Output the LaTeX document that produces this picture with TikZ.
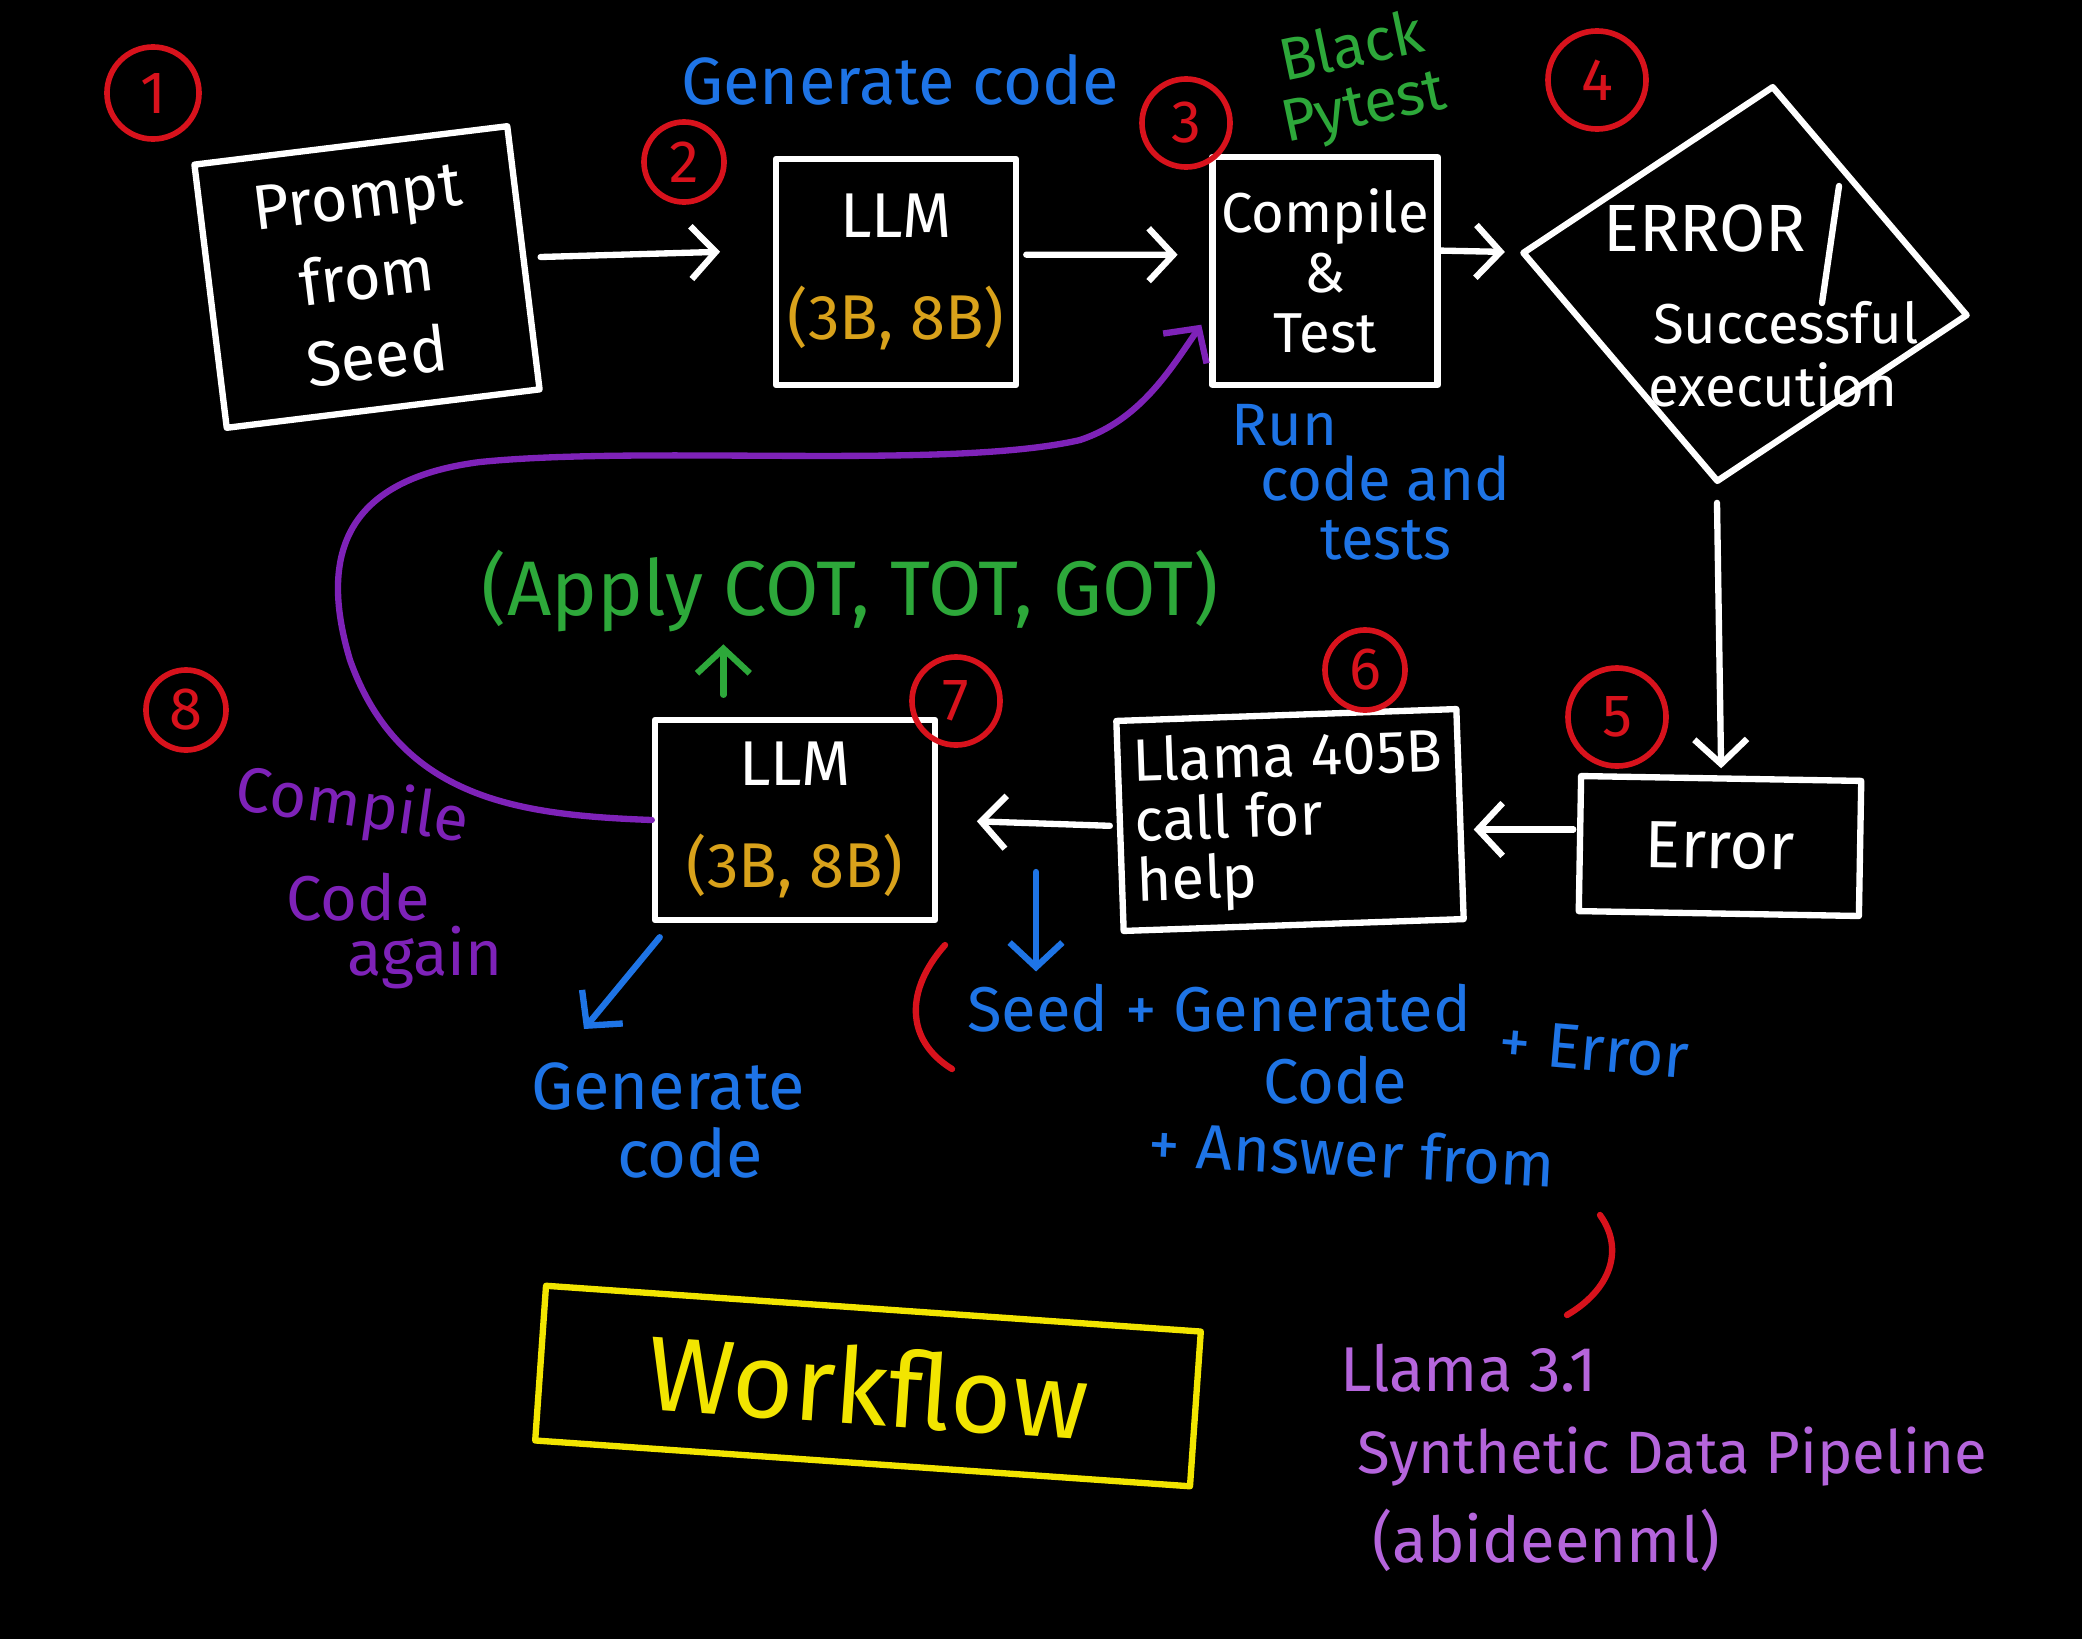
\documentclass[tikz,border=0pt]{standalone}
\usepackage{fontspec}
\setmainfont{Fira Sans}
\usetikzlibrary{arrows.meta,shapes.geometric,calc}
\definecolor{hred}{HTML}{D8121C}
\definecolor{hblue}{HTML}{1E74E6}
\definecolor{hgreen}{HTML}{2DA83A}
\definecolor{hgold}{HTML}{D9A21B}
\definecolor{hpurple}{HTML}{7E22B8}
\definecolor{hlilac}{HTML}{B565DC}
\definecolor{hyellow}{HTML}{F2E500}
\begin{document}
\begin{tikzpicture}[x=0.01cm,y=-0.01cm, line cap=round, line join=round,
  stroke/.style={line width=1.8pt},
  box/.style={draw=white, stroke, inner sep=2pt, text=white, align=center,
    font=\fontsize{18}{21}\selectfont},
  num/.style={circle, draw=hred, line width=1.6pt, text=hred, minimum size=0.85cm,
    inner sep=0pt, font=\fontsize{17}{17}\selectfont},
  conn/.style={stroke, -{Straight Barb[length=7pt,width=15pt]}},
  bluetxt/.style={text=hblue, font=\fontsize{19}{21}\selectfont, align=center},
  greentxt/.style={text=hgreen, font=\fontsize{17}{17}\selectfont, align=center},
  purptxt/.style={text=hpurple, font=\fontsize{18}{20}\selectfont, align=center},
  lilactxt/.style={text=hlilac, font=\fontsize{18}{20}\selectfont, anchor=west}
]
\fill[black] (0,0) rectangle (2082,1639);
\useasboundingbox (0,0) rectangle (2082,1639);

% boxes
\node[box, minimum width=3.15cm, minimum height=2.65cm, rotate=7] (b1) at (367,277) {Prompt\\[2pt]from\\[2pt]Seed};
\node[box, minimum width=2.4cm, minimum height=2.26cm] (b2) at (896,272) {LLM\\[8pt]\textcolor{hgold}{(3B, 8B)}};
\node[box, minimum width=2.25cm, minimum height=2.28cm, font=\fontsize{16}{17}\selectfont] (b3) at (1325,271) {Compile\\\&\\Test};
\node[diamond, draw=white, stroke, minimum width=4.5cm, minimum height=4cm, rotate=-8, inner sep=0pt] (d) at (1745,284) {};
\node[text=white, font=\fontsize{19}{19}\selectfont] (err4) at (1705,228) {ERROR};
\node[text=white, font=\fontsize{16}{16}\selectfont] (succ) at (1786,323) {Successful};
\node[text=white, font=\fontsize{16}{16}\selectfont] (exec) at (1773,385) {execution};
\draw[white, stroke] (1839,186) -- (1822,303);
\node[box, minimum width=2.8cm, minimum height=1.35cm, rotate=-1, font=\fontsize{19}{19}\selectfont] (b5) at (1720,846) {Error};
\node[box, minimum width=3.4cm, minimum height=2.1cm, rotate=2, align=left, font=\fontsize{17}{17}\selectfont] (b6) at (1290,820) {Llama 405B\\call for\\help};
\node[box, minimum width=2.8cm, minimum height=2.0cm] (b7) at (795,820) {LLM\\[8pt]\textcolor{hgold}{(3B, 8B)}};
\node[draw=hyellow, stroke, minimum width=6.56cm, minimum height=1.55cm, rotate=-4, text=hyellow, font=\fontsize{30}{30}\selectfont] (wf) at (868,1386) {Workflow};

% numbers
\node[num, minimum size=0.92cm] (n1) at (153,93) {1};
\node[num, minimum size=0.8cm] (n2) at (684,162) {2};
\node[num, minimum size=0.88cm] (n3) at (1186,123) {3};
\node[num, minimum size=0.98cm] (n4) at (1597,80) {4};
\node[num, minimum size=0.98cm] (n5) at (1617,717) {5};
\node[num, minimum size=0.8cm] (n6) at (1365,670) {6};
\node[num, minimum size=0.88cm] (n7) at (956,701) {7};
\node[num, minimum size=0.8cm] (n8) at (186,710) {8};

% labels
\node[bluetxt] (gen1) at (900,80) {Generate code};
\node[greentxt, rotate=12] (bp) at (1358,80) {Black\\Pytest};
\node[bluetxt, anchor=west, font=\fontsize{17}{17}\selectfont] (run1) at (1219,425) {Run};
\node[bluetxt, anchor=west, font=\fontsize{17}{17}\selectfont] (run2) at (1248,478) {code and};
\node[bluetxt, anchor=west, font=\fontsize{17}{17}\selectfont] (run3) at (1308,540) {tests};
\node[greentxt, font=\fontsize{22}{22}\selectfont] (apply) at (850,591) {(Apply COT, TOT, GOT)};
\node[purptxt, rotate=-8] (cmp) at (352,808) {Compile};
\node[purptxt] (cmp2) at (358,897) {Code};
\node[purptxt] (cmp3) at (425,958) {again};
\node[bluetxt] (gen2a) at (668,1086) {Generate};
\node[bluetxt] (gen2b) at (690,1153) {code};
\node[bluetxt, font=\fontsize{18}{18}\selectfont, anchor=west] (seed) at (955,1008) {Seed + Generated};
\node[bluetxt, font=\fontsize{18}{18}\selectfont, rotate=-5] (plerr) at (1594,1049) {+ Error};
\node[bluetxt, font=\fontsize{18}{18}\selectfont] (code) at (1335,1080) {Code};
\node[bluetxt, font=\fontsize{18}{18}\selectfont, rotate=-3] (ans) at (1352,1153) {+ Answer from};
\node[lilactxt] (ll1) at (1328,1368) {Llama 3.1};
\node[lilactxt, font=\fontsize{17}{17}\selectfont] (ll2) at (1345,1457) {Synthetic Data Pipeline};
\node[lilactxt] (ll3) at (1360,1540) {(abideenml)};

% connectors
\draw[conn, white, shorten <=4pt, shorten >=15pt] (b1.east) -- (b2.170);
\draw[conn, white, shorten <=2pt, shorten >=9pt] (b2.8) -- (b3.172);
\draw[conn, white, shorten <=0pt, shorten >=4pt] (b3.10) -- (d.west);
\draw[conn, white, shorten <=5pt, shorten >=2pt] (d.south) -- (b5.north);
\draw[conn, white, shorten <=1pt, shorten >=3pt] ([yshift=4pt]b5.west) -- ([yshift=4pt]b5.west -| b6.east);
\draw[conn, white, shorten <=2pt, shorten >=11pt] (b6.west) -- (b7.east);
\coordinate (g1) at ($(b7.north west)!0.25!(b7.north east)+(0,-22)$);
\draw[conn, hgreen] (g1) -- (g1 |- apply.south);
\coordinate (bd1) at (1036,872);
\draw[conn, hblue] (bd1) -- (seed.north -| bd1);
\coordinate (bl1) at ($(b7.south west)+(8,14)$);
\coordinate (bl2) at (584,1029);
\draw[conn, hblue] (bl1) -- (bl2);
\draw[conn, hpurple, shorten >=4pt] (b7.west) .. controls (520,815) and (400,800) .. (350,660)
  .. controls (320,560) and (340,480) .. (480,462)
  .. controls (650,445) and (950,470) .. (1080,440)
  .. controls (1140,420) and (1170,370) .. (b3.200);

% red brackets
\draw[hred, stroke] (945,945) .. controls (905,990) and (905,1040) .. (952,1069);
\draw[hred, stroke] (1600,1215) .. controls (1625,1250) and (1610,1290) .. (1567,1315);
\end{tikzpicture}
\end{document}
